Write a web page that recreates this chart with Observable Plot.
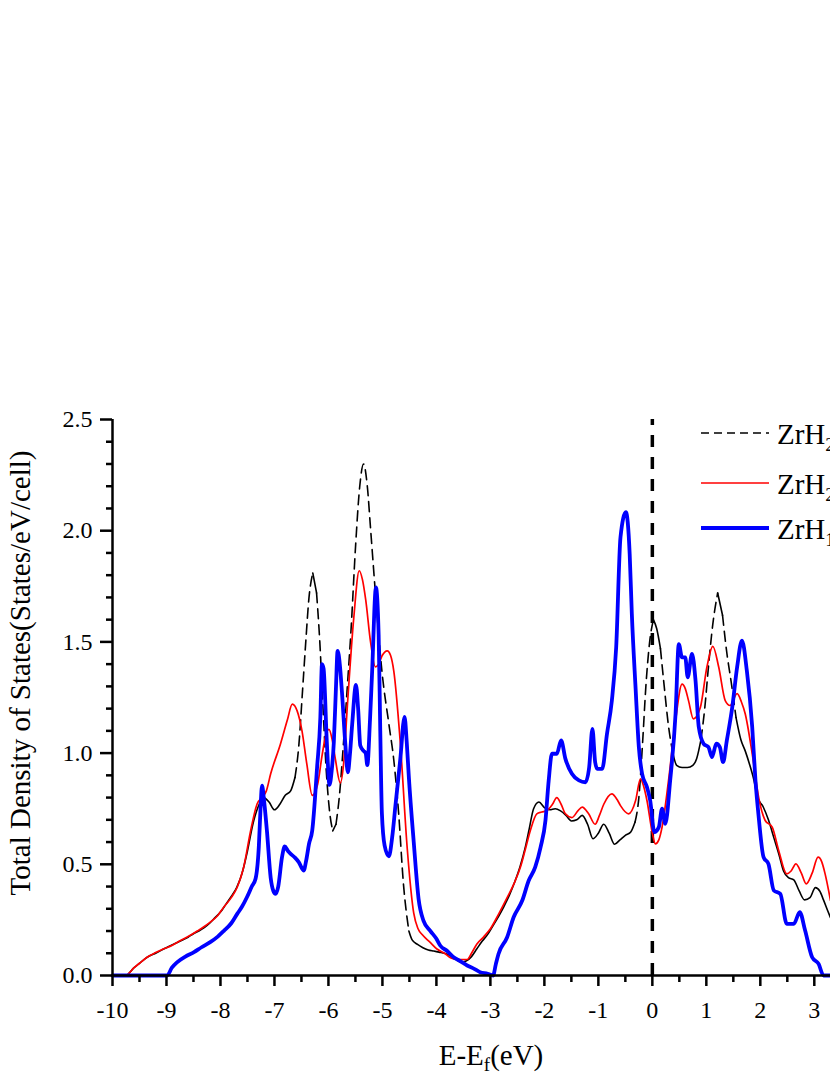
<!DOCTYPE html>
<html>
<head>
<meta charset="utf-8">
<script src="https://cdn.jsdelivr.net/npm/d3@7"></script>
<script src="https://cdn.jsdelivr.net/npm/@observablehq/plot@0.6"></script>
<style>
  html, body { margin: 0; padding: 0; background: #fff; }
  svg { display: block; }
</style>
</head>
<body>
<div id="chart"></div>
<script>
// ---------- data ----------
const seriesNames = ["ZrH2", "ZrH2", "ZrH1.5"];
const legendMain = ["ZrH", "ZrH", "ZrH"];
const legendSub = ["2", "2", "1.5"];

const xTicksMajor = [-10, -9, -8, -7, -6, -5, -4, -3, -2, -1, 0, 1, 2, 3];
const yTicksMajor = [0, 0.5, 1.0, 1.5, 2.0, 2.5];
const fermiLevel = [0];

const blackE = [-10, -9.76, -9.6, -9.5, -9.4, -9.3, -9.2, -9.1, -9.0, -8.9, -8.8, -8.7, -8.6, -8.5, -8.4, -8.3, -8.2, -8.1, -8.0, -7.9, -7.8, -7.7, -7.6, -7.5, -7.4, -7.3, -7.2, -7.1, -7.0, -6.9, -6.8, -6.7, -6.62, -6.55, -6.48, -6.42, -6.36, -6.29, -6.22, -6.16, -6.10, -6.04, -5.98, -5.92, -5.86, -5.80, -5.72, -5.65, -5.58, -5.50, -5.42, -5.35, -5.28, -5.22, -5.13, -5.01, -4.88, -4.79, -4.70, -4.61, -4.51, -4.45, -4.35, -4.25, -4.15, -4.05, -3.95, -3.85, -3.75, -3.65, -3.55, -3.45, -3.35, -3.25, -3.15, -3.05, -2.95, -2.85, -2.75, -2.65, -2.55, -2.45, -2.35, -2.28, -2.2, -2.1, -2.0, -1.9, -1.8, -1.7, -1.6, -1.5, -1.4, -1.3, -1.2, -1.1, -1.0, -0.9, -0.8, -0.7, -0.6, -0.5, -0.4, -0.32, -0.25, -0.18, -0.12, -0.05, 0.02, 0.08, 0.15, 0.22, 0.30, 0.38, 0.45, 0.55, 0.65, 0.75, 0.82, 0.90, 0.97, 1.04, 1.12, 1.21, 1.30, 1.38, 1.46, 1.55, 1.64, 1.72, 1.80, 1.88, 1.95, 2.05, 2.15, 2.25, 2.35, 2.43, 2.52, 2.62, 2.72, 2.82, 2.92, 3.02, 3.1, 3.17, 3.25, 3.3];
const blackDOS = [0, 0, 0.035, 0.055, 0.075, 0.09, 0.10, 0.113, 0.125, 0.137, 0.148, 0.16, 0.172, 0.188, 0.20, 0.215, 0.235, 0.26, 0.285, 0.32, 0.355, 0.395, 0.46, 0.56, 0.68, 0.76, 0.80, 0.78, 0.745, 0.77, 0.81, 0.83, 0.89, 1.03, 1.28, 1.50, 1.70, 1.81, 1.72, 1.50, 1.20, 0.92, 0.74, 0.65, 0.68, 0.80, 1.05, 1.30, 1.56, 1.92, 2.20, 2.30, 2.20, 2.01, 1.72, 1.37, 1.13, 0.97, 0.73, 0.41, 0.20, 0.16, 0.14, 0.125, 0.115, 0.11, 0.105, 0.10, 0.09, 0.075, 0.06, 0.065, 0.085, 0.12, 0.155, 0.185, 0.225, 0.265, 0.31, 0.36, 0.42, 0.49, 0.58, 0.66, 0.75, 0.78, 0.755, 0.745, 0.75, 0.74, 0.72, 0.695, 0.70, 0.72, 0.68, 0.615, 0.64, 0.68, 0.64, 0.59, 0.61, 0.63, 0.645, 0.69, 0.80, 1.05, 1.30, 1.50, 1.60, 1.56, 1.47, 1.30, 1.12, 1.00, 0.945, 0.935, 0.935, 0.945, 0.975, 1.06, 1.20, 1.39, 1.58, 1.72, 1.62, 1.45, 1.32, 1.16, 1.06, 1.01, 0.95, 0.88, 0.80, 0.76, 0.70, 0.62, 0.54, 0.47, 0.44, 0.43, 0.38, 0.34, 0.35, 0.395, 0.38, 0.34, 0.29, 0.26];

const redE = [-10, -9.76, -9.6, -9.5, -9.36, -9.2, -9.05, -8.9, -8.74, -8.6, -8.43, -8.3, -8.19, -8.05, -7.94, -7.8, -7.69, -7.57, -7.44, -7.32, -7.23, -7.15, -7.07, -6.89, -6.76, -6.67, -6.58, -6.49, -6.40, -6.30, -6.20, -6.12, -6.05, -5.99, -5.93, -5.87, -5.78, -5.72, -5.65, -5.53, -5.43, -5.37, -5.31, -5.22, -5.13, -5.07, -5.01, -4.91, -4.85, -4.79, -4.67, -4.54, -4.42, -4.34, -4.26, -4.12, -3.99, -3.85, -3.74, -3.6, -3.43, -3.35, -3.25, -3.12, -3.0, -2.85, -2.69, -2.55, -2.44, -2.35, -2.26, -2.14, -2.05, -1.95, -1.85, -1.77, -1.69, -1.61, -1.49, -1.38, -1.30, -1.18, -1.06, -0.98, -0.90, -0.75, -0.65, -0.59, -0.44, -0.31, -0.22, -0.16, -0.10, 0.00, 0.056, 0.12, 0.18, 0.30, 0.43, 0.55, 0.61, 0.67, 0.76, 0.89, 1.01, 1.12, 1.23, 1.35, 1.44, 1.57, 1.65, 1.72, 1.85, 1.97, 2.09, 2.22, 2.34, 2.49, 2.57, 2.66, 2.76, 2.85, 2.96, 3.07, 3.14, 3.20, 3.30];
const redDOS = [0, 0, 0.035, 0.055, 0.082, 0.103, 0.12, 0.135, 0.157, 0.175, 0.20, 0.22, 0.24, 0.27, 0.307, 0.35, 0.397, 0.487, 0.652, 0.772, 0.80, 0.83, 0.907, 1.04, 1.15, 1.22, 1.19, 1.10, 0.95, 0.81, 0.86, 0.986, 1.08, 1.107, 1.06, 0.97, 0.866, 0.95, 1.21, 1.61, 1.82, 1.78, 1.69, 1.50, 1.388, 1.40, 1.436, 1.46, 1.44, 1.37, 1.05, 0.57, 0.28, 0.21, 0.183, 0.15, 0.119, 0.10, 0.08, 0.072, 0.072, 0.10, 0.142, 0.175, 0.21, 0.275, 0.35, 0.42, 0.49, 0.57, 0.652, 0.727, 0.735, 0.742, 0.77, 0.80, 0.77, 0.727, 0.71, 0.74, 0.757, 0.727, 0.68, 0.72, 0.77, 0.817, 0.79, 0.764, 0.727, 0.787, 0.884, 0.85, 0.787, 0.64, 0.592, 0.61, 0.667, 0.877, 1.147, 1.31, 1.29, 1.236, 1.154, 1.206, 1.386, 1.48, 1.386, 1.236, 1.214, 1.267, 1.23, 1.177, 0.997, 0.80, 0.697, 0.667, 0.562, 0.457, 0.47, 0.502, 0.46, 0.412, 0.46, 0.532, 0.51, 0.457, 0.337];

const blueE = [-10, -8.99, -8.9, -8.8, -8.65, -8.49, -8.35, -8.19, -8.05, -7.94, -7.8, -7.69, -7.6, -7.51, -7.42, -7.35, -7.29, -7.26, -7.23, -7.19, -7.14, -7.07, -7.02, -6.98, -6.93, -6.86, -6.81, -6.75, -6.70, -6.62, -6.55, -6.46, -6.41, -6.36, -6.30, -6.21, -6.15, -6.12, -6.09, -6.03, -5.98, -5.94, -5.90, -5.86, -5.83, -5.79, -5.75, -5.69, -5.64, -5.60, -5.56, -5.49, -5.45, -5.41, -5.35, -5.31, -5.28, -5.23, -5.19, -5.12, -5.07, -5.04, -5.01, -4.96, -4.88, -4.82, -4.76, -4.67, -4.59, -4.55, -4.51, -4.42, -4.33, -4.24, -4.11, -4.0, -3.93, -3.80, -3.68, -3.56, -3.43, -3.3, -3.19, -3.05, -2.95, -2.90, -2.85, -2.69, -2.57, -2.41, -2.29, -2.17, -2.07, -1.98, -1.92, -1.86, -1.77, -1.69, -1.61, -1.49, -1.36, -1.24, -1.17, -1.11, -1.06, -1.02, -0.93, -0.84, -0.75, -0.67, -0.59, -0.49, -0.42, -0.38, -0.31, -0.25, -0.19, -0.10, -0.04, 0.037, 0.12, 0.18, 0.24, 0.33, 0.43, 0.49, 0.55, 0.61, 0.654, 0.735, 0.80, 0.86, 0.95, 1.04, 1.105, 1.185, 1.25, 1.31, 1.38, 1.48, 1.57, 1.66, 1.75, 1.85, 1.91, 1.97, 2.06, 2.15, 2.25, 2.37, 2.49, 2.62, 2.73, 2.83, 2.96, 3.08, 3.17, 3.30];
const blueDOS = [0, 0, 0.035, 0.06, 0.085, 0.105, 0.127, 0.15, 0.175, 0.20, 0.235, 0.277, 0.31, 0.352, 0.40, 0.435, 0.577, 0.74, 0.854, 0.78, 0.652, 0.44, 0.38, 0.367, 0.40, 0.532, 0.58, 0.56, 0.547, 0.53, 0.51, 0.472, 0.52, 0.592, 0.652, 0.937, 1.16, 1.40, 1.38, 1.05, 0.857, 0.92, 1.05, 1.30, 1.46, 1.40, 1.275, 1.05, 0.914, 1.00, 1.13, 1.307, 1.20, 1.034, 1.01, 1.00, 0.946, 1.15, 1.371, 1.745, 1.532, 1.10, 0.73, 0.585, 0.536, 0.62, 0.761, 0.97, 1.163, 1.05, 0.89, 0.60, 0.344, 0.247, 0.20, 0.165, 0.135, 0.11, 0.082, 0.065, 0.045, 0.03, 0.015, 0.008, 0, 0.05, 0.097, 0.172, 0.262, 0.337, 0.427, 0.487, 0.577, 0.697, 0.877, 0.997, 0.997, 1.057, 0.974, 0.907, 0.877, 0.869, 0.937, 1.109, 0.96, 0.929, 0.929, 1.087, 1.236, 1.476, 1.971, 2.083, 1.896, 1.626, 1.29, 1.027, 0.907, 0.847, 0.787, 0.645, 0.667, 0.75, 0.682, 0.877, 1.177, 1.49, 1.43, 1.43, 1.341, 1.446, 1.326, 1.117, 1.042, 1.027, 0.982, 1.042, 1.027, 0.959, 1.057, 1.206, 1.386, 1.506, 1.371, 1.117, 0.877, 0.712, 0.532, 0.502, 0.382, 0.367, 0.232, 0.232, 0.285, 0.202, 0.082, 0.052, 0, 0];

const seriesColors = ["#000000", "#ff0000", "#0000ff"];

// ---------- helpers ----------
const toRows = (xs, ys) => xs.map((x, i) => ({x, y: ys[i]}));
const red = toRows(redE, redDOS);
const blue = toRows(blueE, blueDOS);

// The black curve is dashed only where it is steep (dash pattern restarting on
// each short segment in the original); split it into steep / gentle runs.
function splitRuns(xs, ys, thr) {
  const rows = [];
  let run = -1, prevSteep = null;
  for (let i = 0; i < xs.length - 1; i++) {
    const steep = Math.abs((ys[i + 1] - ys[i]) / (xs[i + 1] - xs[i])) > thr;
    if (steep !== prevSteep) {
      run++;
      rows.push({x: xs[i], y: ys[i], run, steep});
      prevSteep = steep;
    }
    rows.push({x: xs[i + 1], y: ys[i + 1], run, steep});
  }
  return rows;
}
const blackRuns = splitRuns(blackE, blackDOS, 1.3);

const halfTicks = d3.range(-9.5, 3.3, 1);
const minorY = d3.range(0, 2.501, 0.1).filter(v => Math.abs(v * 2 - Math.round(v * 2)) > 1e-6);

const font = "'Liberation Serif', 'Times New Roman', serif";

const chart = Plot.plot({
  width: 830,
  height: 1075,
  marginLeft: 112,
  marginRight: 0,
  marginTop: 419,
  marginBottom: 100,
  style: {fontFamily: font, background: "#fff", color: "#000"},
  x: {domain: [-10, 3.3], label: null},
  y: {domain: [0, 2.5], label: null},
  marks: [
    Plot.ruleX(fermiLevel, {y1: 0, y2: 2.5, stroke: "#000", strokeWidth: 3.5, strokeDasharray: "12,10"}),
    Plot.line(blackRuns.filter(d => !d.steep), {x: "x", y: "y", z: "run", stroke: seriesColors[0], strokeWidth: 1.6, curve: "monotone-x"}),
    Plot.line(blackRuns.filter(d => d.steep), {x: "x", y: "y", z: "run", stroke: seriesColors[0], strokeWidth: 1.6, strokeDasharray: "10,6", curve: "monotone-x"}),
    Plot.line(red, {x: "x", y: "y", stroke: seriesColors[1], strokeWidth: 1.7, curve: "monotone-x"}),
    Plot.line(blue, {x: "x", y: "y", stroke: seriesColors[2], strokeWidth: 3.8, curve: "monotone-x"}),
    Plot.axisY({ticks: minorY, tickSize: 6, tickFormat: () => "", strokeWidth: 2.5, label: null}),
    Plot.axisY({ticks: yTicksMajor, tickSize: 12, tickPadding: 8, fontSize: 24, tickFormat: d => d.toFixed(1), strokeWidth: 2.5, label: null, ariaLabel: "y-major"}),
    Plot.axisX({ticks: halfTicks, tickSize: 7, tickFormat: () => "", strokeWidth: 2.5, label: null}),
    Plot.axisX({ticks: xTicksMajor, tickSize: 11, tickPadding: 14, fontSize: 24, tickFormat: d => String(d), strokeWidth: 2.5, label: null, ariaLabel: "x-major"}),
    Plot.ruleY([0], {stroke: "#000", strokeWidth: 2.5}),
    Plot.ruleX([-10], {stroke: "#000", strokeWidth: 2.5})
  ]
});

document.getElementById("chart").appendChild(chart);

// force the serif face and size on all tick labels
const svg = d3.select(chart);
svg.selectAll("text")
  .style("font-family", font)
  .style("font-size", "24px")
  .attr("fill", "#000");

// ---------- axis titles and legend ----------
svg.append("text")
  .attr("transform", "translate(30,673) rotate(-90)")
  .attr("text-anchor", "middle")
  .style("font-family", font)
  .style("font-size", "29px")
  .attr("fill", "#000")
  .text("Total Density of States(States/eV/cell)");

const xl = svg.append("text")
  .attr("x", 491).attr("y", 1065)
  .attr("text-anchor", "middle")
  .style("font-family", font)
  .style("font-size", "29px")
  .attr("fill", "#000");
xl.append("tspan").text("E-E");
xl.append("tspan").style("font-size", "19px").attr("dy", 6).text("f");
xl.append("tspan").attr("dy", -6).text("(eV)");

const legendRows = [433, 483, 528];
const legendStyles = [
  {w: 1.6, dash: "8,5"},
  {w: 1.7, dash: null},
  {w: 4, dash: null}
];
const lg = svg.append("g");
legendRows.forEach((yy, i) => {
  const ln = lg.append("line")
    .attr("x1", 701).attr("x2", 769).attr("y1", yy).attr("y2", yy)
    .attr("stroke", seriesColors[i]).attr("stroke-width", legendStyles[i].w);
  if (legendStyles[i].dash) ln.attr("stroke-dasharray", legendStyles[i].dash);
  const t = lg.append("text")
    .attr("x", 777).attr("y", yy + 11)
    .attr("text-anchor", "start")
    .style("font-family", font).style("font-size", "29px").attr("fill", "#000");
  t.append("tspan").text(legendMain[i]);
  t.append("tspan").style("font-size", "19px").attr("dy", 7).text(legendSub[i]);
});
</script>
</body>
</html>
